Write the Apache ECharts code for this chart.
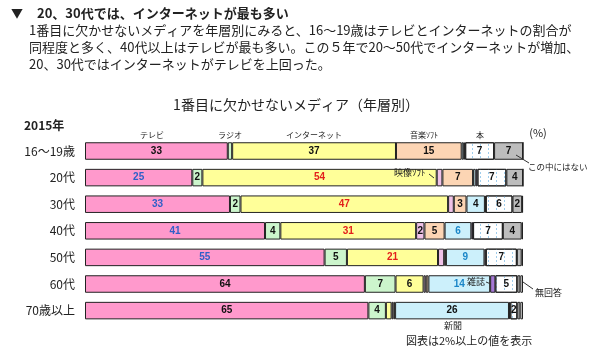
<!DOCTYPE html>
<html>
<head>
<meta charset="utf-8">
<script src="https://cdn.jsdelivr.net/npm/echarts@6/dist/echarts.min.js"></script>
<style>
html, body { margin: 0; padding: 0; background: #fff; }
#main { width: 590px; height: 354px; }
</style>
</head>
<body>
<div id="main"></div>
<script>
// 年層
var ages = ['16～19歳', '20代', '30代', '40代', '50代', '60代', '70歳以上'];
var media = ['テレビ', 'ラジオ', 'インターネット', '映像ソフト', '音楽ソフト', '新聞', '雑誌', '本', 'この中にはない', '無回答'];

// 各メディアの割合(%)  上から 16～19歳 … 70歳以上
var tv        = [32.6, 24.5, 33.1, 41.1, 54.7, 63.9, 64.7];
var radio     = [1.0, 2.3, 2.4, 3.5, 5.1, 7.0, 4.0];
var internet  = [37.4, 53.5, 47.4, 31.0, 20.8, 6.4, 1.3];
var video     = [0, 1.3, 1.3, 1.9, 1.4, 0.5, 0.4];
var music     = [15.0, 7.0, 2.9, 4.6, 0.4, 0.6, 0.4];
var newspaper = [0.5, 0.6, 4.2, 6.1, 8.8, 14.1, 26.0];
var magazine  = [0.3, 0.4, 0.2, 0.4, 0.3, 1.2, 0.3];
var book      = [6.6, 6.6, 6.1, 6.8, 7.1, 5.0, 1.6];
var none      = [6.6, 3.8, 2.2, 4.3, 1.1, 0.7, 0.7];
var noAnswer  = [0, 0, 0.2, 0.3, 0.3, 0.6, 0.6];

var fills = ['#ff99cc', '#ccf5cc', '#ffff99', '#f0c2e8', '#fcd5b4', '#ccf0fb', '#a678d6', '#ffffff', '#bdbdbd', '#ffffff'];
var BLACK = '#111', BLUE = '#2f5fc8', RED = '#e3201c', SKY = '#1a86c8';
// 数値ラベルの色(テレビ・ネット・新聞だけ色付き)
var labelColors = {
    0: [BLACK, BLUE, BLUE, BLUE, BLUE, BLACK, BLACK],
    2: [BLACK, RED, RED, RED, RED, BLACK, BLACK],
    5: [BLACK, BLACK, BLACK, SKY, SKY, SKY, BLACK]
};

var seriesData = [tv, radio, internet, video, music, newspaper, magazine, book, none, noAnswer];
var JP = '"Noto Sans CJK JP", sans-serif';

var series = seriesData.map(function (vals, i) {
    var itemStyle = { color: fills[i], borderColor: '#222', borderWidth: 1 };
    if (i === 7) {
        // 本: 白地に点線
        itemStyle.decal = { symbol: 'rect', symbolSize: 1, color: '#9fcdec', dashArrayX: [1, 7], dashArrayY: [2, 2] };
    }
    return {
        name: media[i],
        type: 'bar',
        stack: 'all',
        barWidth: 17.5,
        itemStyle: itemStyle,
        label: {
            show: true,
            position: 'inside',
            color: BLACK,
            fontSize: 10,
            fontWeight: 'bold',
            fontFamily: 'Liberation Sans',
            formatter: function (p) {
                return p.value >= 1.5 ? Math.round(p.value) : '';
            }
        },
        data: vals.map(function (v, j) {
            var d = { value: v };
            if (labelColors[i]) d.label = { color: labelColors[i][j] };
            return d;
        })
    };
});

function txt(s, x, y, size, opt) {
    opt = opt || {};
    return {
        type: 'text',
        z: 100,
        style: {
            text: s, x: x, y: y,
            fontSize: size,
            fontFamily: JP,
            fontWeight: opt.bold ? 'bold' : 'normal',
            fill: opt.color || '#222',
            align: opt.align || 'left',
            verticalAlign: 'middle'
        }
    };
}
function line(x1, y1, x2, y2) {
    return { type: 'line', z: 100, shape: { x1: x1, y1: y1, x2: x2, y2: y2 }, style: { stroke: '#333', lineWidth: 1 } };
}

var chart = echarts.init(document.getElementById('main'));
var option = {
    animation: false,
    backgroundColor: '#fff',
    grid: { left: 85, right: 67, top: 137.7, bottom: 30.1 },
    xAxis: { type: 'value', min: 0, max: 100, show: false },
    yAxis: {
        type: 'category',
        data: ages,
        inverse: true,
        axisLine: { show: false },
        axisTick: { show: false },
        axisLabel: { fontSize: 12, color: '#222', margin: 10, fontFamily: JP }
    },
    graphic: [
        txt('▼', 11, 13, 12, { bold: true }),
        txt('20、30代では、インターネットが最も多い', 37, 13, 13, { bold: true }),
        txt('1番目に欠かせないメディアを年層別にみると、16～19歳はテレビとインターネットの割合が', 29, 30, 13),
        txt('同程度と多く、40代以上はテレビが最も多い。この５年で20～50代でインターネットが増加、', 29, 47, 13),
        txt('20、30代ではインターネットがテレビを上回った。', 29, 64, 13),
        txt('1番目に欠かせないメディア（年層別）', 296, 105, 14, { align: 'center' }),
        txt('2015年', 24, 125, 12, { bold: true }),
        txt('テレビ', 152, 135, 8, { align: 'center' }),
        txt('ラジオ', 230, 135, 8, { align: 'center' }),
        txt('インターネット', 314, 135, 8, { align: 'center' }),
        txt('音楽ｿﾌﾄ', 424, 135, 8, { align: 'center' }),
        txt('本', 480, 135, 8, { align: 'center' }),
        txt('(%)', 538, 133, 11, { align: 'center' }),
        txt('この中にはない', 528, 167, 8.5),
        line(516, 155, 529, 163),
        txt('映像ｿﾌﾄ', 394, 173, 9),
        line(429, 174, 434, 178),
        txt('雑誌', 467, 282, 9),
        line(486, 282, 491, 284),
        txt('無回答', 535, 293, 9),
        line(523, 282, 533, 289),
        txt('新聞', 453, 326, 9, { align: 'center' }),
        txt('図表は2%以上の値を表示', 406, 341, 11)
    ],
    series: series
};
chart.setOption(option);
</script>
</body>
</html>
